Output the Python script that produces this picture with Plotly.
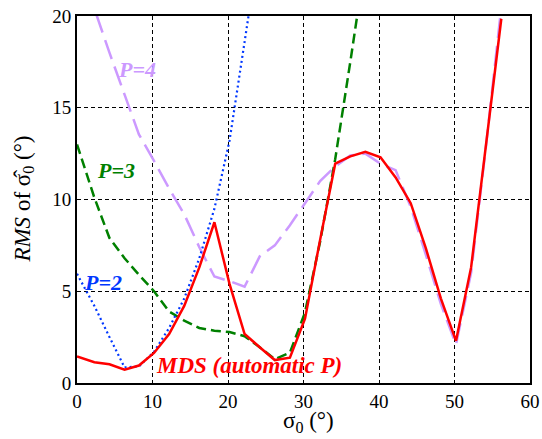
import plotly.graph_objects as go

# sampling positions of sigma_0 (deg)
x = [0, 2.3, 4.3, 6.3, 8.2, 10.2, 12.2, 14.2, 16.2, 18.2, 20.2, 22.2, 24.2, 26.2, 28.2,
     30.2, 32.2, 34.2, 36.2, 38.2, 40.2, 42.2, 44.2, 46.2, 48.2, 50.2, 52.2, 54.2, 56.2]

rms_p2 = [5.95, 4.2, 2.5, 0.85, 0.9, 1.7, 3.0, 4.6, 6.8, 9.5, 13.2, 18.5, 24.0]
rms_p3 = [13.0, 10.1, 7.9, 6.8, 5.9, 5.0, 3.9, 3.4, 3.0, 2.85, 2.78, 2.55, 1.95, 1.3, 1.65,
          3.85, 7.7, 12.2, 17.5, 23.0]
rms_p4 = [23.0, 20.4, 18.0, 15.7, 13.55, 12.1, 10.6, 9.2, 7.4, 5.8, 5.55, 5.25, 6.9, 7.5, 8.6,
          9.8, 11.0, 11.8, 12.4, 12.5, 11.95, 11.6, 9.6, 7.0, 4.3, 2.1, 6.0, 13.0, 20.5]
rms_mds = [1.45, 1.13, 1.02, 0.72, 0.95, 1.64, 2.67, 4.2, 6.3, 8.76, 5.4, 2.67, 1.95, 1.25, 1.38,
           3.5, 7.8, 11.95, 12.35, 12.6, 12.3, 11.2, 9.8, 7.35, 4.6, 2.3, 6.3, 13.05, 19.85]

labels = ["P=2", "P=3", "P=4", "MDS (automatic P)"]
x_ticks = [0, 10, 20, 30, 40, 50, 60]
y_ticks = [0, 5, 10, 15, 20]

c_red = "#FF0000"
c_green = "#008000"
c_blue = "#0037FF"
c_purple = "#CC99FF"

fig = go.Figure()
fig.add_trace(go.Scatter(x=x[:len(rms_p4)], y=rms_p4, mode="lines",
                         line=dict(color=c_purple, width=2.5, dash="20px,8px"), name=labels[2]))
fig.add_trace(go.Scatter(x=x[:len(rms_p3)], y=rms_p3, mode="lines",
                         line=dict(color=c_green, width=2.5, dash="10px,5px"), name=labels[1]))
fig.add_trace(go.Scatter(x=x[:len(rms_p2)], y=rms_p2, mode="lines",
                         line=dict(color=c_blue, width=2.2, dash="2px,3px"), name=labels[0]))
fig.add_trace(go.Scatter(x=x[:len(rms_mds)], y=rms_mds, mode="lines",
                         line=dict(color=c_red, width=2.5), name=labels[3]))

font_lab = "Liberation Serif"
def ann(xp, yp, text, color, size=22):
    fig.add_annotation(x=xp, y=yp, text="<b><i>%s</i></b>" % text, showarrow=False,
                       font=dict(family=font_lab, size=size, color=color))

ann(7.9, 17.1, labels[2], c_purple)
ann(5.15, 11.6, labels[1], c_green)
ann(3.45, 5.5, labels[0], c_blue)
ann(22.8, 0.95, labels[3], c_red, size=23)

# axis titles as paper-anchored annotations
fig.add_annotation(xref="paper", yref="paper", x=0.512, y=-0.106, yanchor="middle",
                   text="σ<sub>0</sub> (°)", showarrow=False,
                   font=dict(family=font_lab, size=23, color="black"))
fig.add_annotation(xref="paper", yref="paper", x=-0.119, y=0.5, xanchor="center", yanchor="middle",
                   textangle=-90, text="<i>RMS</i> of σ\u0302<sub>0</sub> (°)", showarrow=False,
                   font=dict(family=font_lab, size=23, color="black"))

axis_common = dict(showline=True, mirror=True, linecolor="black", linewidth=2,
                   showgrid=True, gridcolor="black", gridwidth=1, griddash="4px,3px",
                   zeroline=False, ticks="", automargin=False,
                   tickfont=dict(family=font_lab, size=19, color="black"))

fig.update_layout(
    width=542, height=439,
    margin=dict(l=77, r=12, t=16, b=56),
    paper_bgcolor="white", plot_bgcolor="white",
    showlegend=False,
    xaxis=dict(range=[0, 60], tickvals=x_ticks, **axis_common),
    yaxis=dict(range=[0, 20], tickvals=y_ticks, **axis_common),
)

# remove the default page margin so the figure fills the window exactly
fig.write_html("out.html", config={"displayModeBar": False},
               post_script="document.body.style.margin='0';")
